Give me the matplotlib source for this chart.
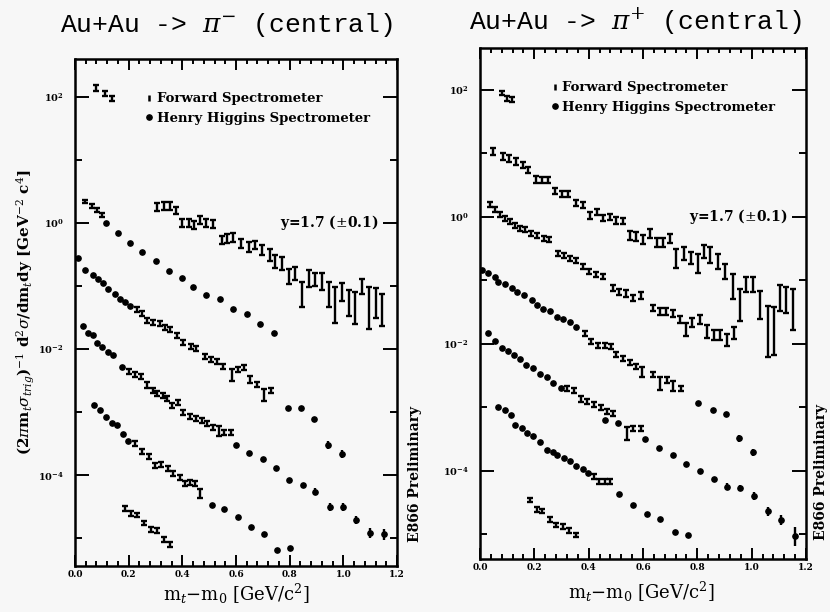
import numpy as np
import matplotlib
matplotlib.use('Agg')
import matplotlib.pyplot as plt
from matplotlib.ticker import FixedLocator, NullFormatter
from matplotlib.lines import Line2D

plt.rcParams['font.family'] = 'DejaVu Serif'
plt.rcParams['mathtext.fontset'] = 'dejavuserif'

# ---- data (x = mt-m0 in GeV/c^2, logy = log10 of yield, err in decades)
# kind: 'f' = Forward Spectrometer point, 'h' = Henry Higgins Spectrometer point

# pi- panel
L_A_x = [0.08, 0.112, 0.137]
L_A_logy = [2.14, 2.06, 1.98]
L_A_err = [0.04, 0.04, 0.04]
L_A_kind = 'fff'

L_B_x = [0.307, 0.333, 0.354, 0.377, 0.40, 0.423, 0.444, 0.466, 0.489, 0.514,
         0.547, 0.568, 0.59, 0.618, 0.647, 0.672, 0.697, 0.725, 0.746, 0.771,
         0.796, 0.821, 0.846, 0.871, 0.896, 0.92, 0.945, 0.97, 0.995, 1.02,
         1.045, 1.07, 1.094, 1.12, 1.144]
L_B_logy = [0.25, 0.27, 0.27, 0.20, 0.0, 0.0, -0.03, 0.05, 0.0, -0.02,
            -0.27, -0.24, -0.23, -0.32, -0.38, -0.35, -0.43, -0.51, -0.61, -0.64,
            -0.85, -0.80, -1.14, -0.88, -0.90, -0.93, -1.14, -1.30, -1.09, -1.27,
            -1.35, -1.01, -1.35, -1.27, -1.38]
L_B_err = [0.06, 0.06, 0.06, 0.06, 0.06, 0.06, 0.06, 0.06, 0.06, 0.06,
           0.07, 0.07, 0.07, 0.07, 0.08, 0.07, 0.08, 0.09, 0.1, 0.1,
           0.12, 0.1, 0.2, 0.14, 0.1, 0.13, 0.2, 0.29, 0.14, 0.2,
           0.25, 0.12, 0.33, 0.24, 0.25]
L_B_kind = 'fffffffffffffffffffffffffffffffffff'

L_C_x = [0.037, 0.062, 0.081, 0.10, 0.116, 0.159, 0.205, 0.25, 0.30, 0.35,
         0.40, 0.44, 0.49, 0.54, 0.59, 0.64, 0.69, 0.74]
L_C_logy = [0.34, 0.27, 0.20, 0.13, 0.0, -0.16, -0.31, -0.46, -0.61, -0.76,
            -0.88, -1.02, -1.14, -1.21, -1.37, -1.44, -1.60, -1.74]
L_C_err = [0.03, 0.03, 0.03, 0.03, 0, 0, 0, 0, 0, 0, 0, 0, 0, 0, 0, 0, 0, 0]
L_C_kind = 'ffffhhhhhhhhhhhhhh'

L_D_x = [0.012, 0.037, 0.068, 0.087, 0.106, 0.124, 0.149, 0.168, 0.187, 0.205,
         0.23, 0.249, 0.27, 0.292, 0.315, 0.336, 0.354, 0.379, 0.404, 0.432,
         0.451, 0.485, 0.506, 0.529, 0.553, 0.585, 0.606, 0.63, 0.653, 0.68,
         0.703, 0.73, 0.794, 0.842, 0.892, 0.941, 0.995]
L_D_logy = [-0.56, -0.74, -0.83, -0.89, -0.96, -1.04, -1.12, -1.2, -1.25, -1.32,
            -1.38, -1.43, -1.54, -1.58, -1.6, -1.66, -1.69, -1.78, -1.9, -1.96,
            -1.99, -2.12, -2.17, -2.2, -2.28, -2.41, -2.32, -2.29, -2.48, -2.56,
            -2.73, -2.65, -2.93, -2.93, -3.11, -3.52, -3.66]
L_D_err = [0, 0, 0, 0, 0, 0, 0, 0, 0, 0,
           0.04, 0.04, 0.04, 0.04, 0.04, 0.04, 0.04, 0.04, 0.04, 0.04,
           0.04, 0.04, 0.04, 0.04, 0.04, 0.1, 0.04, 0.04, 0.06, 0.04,
           0.1, 0.04, 0, 0, 0.04, 0.06, 0.06]
L_D_kind = 'hhhhhhhhhhffffffffffffffffffffffhhhhh'

L_E_x = [0.031, 0.05, 0.066, 0.081, 0.1, 0.124, 0.143, 0.174, 0.203, 0.224,
         0.245, 0.27, 0.29, 0.307, 0.327, 0.344, 0.361, 0.382, 0.404, 0.429,
         0.451, 0.473, 0.491, 0.514, 0.535, 0.556, 0.583, 0.6, 0.649, 0.699,
         0.75, 0.799, 0.848, 0.896, 0.949, 0.999, 1.049, 1.1, 1.15]
L_E_logy = [-1.63, -1.75, -1.78, -1.91, -1.96, -2.04, -2.1, -2.28, -2.36, -2.41,
            -2.44, -2.57, -2.65, -2.7, -2.73, -2.78, -2.89, -2.85, -3.0, -3.07,
            -3.1, -3.13, -3.18, -3.24, -3.3, -3.33, -3.33, -3.52, -3.65, -3.74,
            -3.89, -4.08, -4.15, -4.26, -4.5, -4.5, -4.71, -4.92, -4.94]
L_E_err = [0, 0, 0, 0, 0, 0, 0, 0, 0.04, 0.04,
           0.04, 0.04, 0.04, 0.04, 0.04, 0.04, 0.04, 0.04, 0.04, 0.04,
           0.04, 0.04, 0.04, 0.04, 0.08, 0.04, 0.04, 0, 0, 0,
           0, 0, 0, 0.05, 0.06, 0.06, 0.07, 0.08, 0.08]
L_E_kind = 'hhhhhhhhfffffffffffffffffffhhhhhhhhhhhh'

L_F_x = [0.071, 0.093, 0.116, 0.137, 0.158, 0.178, 0.199, 0.224, 0.249, 0.274,
         0.299, 0.32, 0.348, 0.367, 0.392, 0.41, 0.429, 0.448, 0.466, 0.51,
         0.556, 0.606, 0.656, 0.703, 0.753, 0.802]
L_F_logy = [-2.89, -2.97, -3.07, -3.18, -3.21, -3.34, -3.46, -3.5, -3.63, -3.71,
            -3.84, -3.83, -3.89, -3.97, -4.03, -4.13, -4.11, -4.13, -4.29, -4.48,
            -4.54, -4.66, -4.82, -4.94, -5.18, -5.16]
L_F_err = [0, 0, 0, 0, 0, 0, 0, 0.04, 0.04, 0.04,
           0.04, 0.04, 0.04, 0.04, 0.04, 0.04, 0.04, 0.04, 0.07, 0,
           0, 0, 0, 0, 0, 0.04]
L_F_kind = 'hhhhhhhffffffffffffhhhhhhh'

L_G_x = [0.187, 0.208, 0.232, 0.257, 0.282, 0.307, 0.332, 0.354]
L_G_logy = [-4.53, -4.61, -4.63, -4.76, -4.86, -4.88, -5.02, -5.1]
L_G_err = [0.035, 0.035, 0.035, 0.035, 0.035, 0.035, 0.035, 0.035]
L_G_kind = 'ffffffff'

# pi+ panel
R_A_x = [0.08, 0.098, 0.117]
R_A_logy = [1.95, 1.87, 1.85]
R_A_err = [0.035, 0.04, 0.04]
R_A_kind = 'fff'

R_B_x = [0.047, 0.086, 0.108, 0.132, 0.157, 0.178, 0.206, 0.227, 0.251, 0.276,
         0.3, 0.325, 0.353, 0.378, 0.404, 0.429, 0.453, 0.478, 0.502, 0.527,
         0.551, 0.574, 0.6, 0.625, 0.65, 0.674, 0.699, 0.723, 0.75, 0.775,
         0.803, 0.824, 0.846, 0.876, 0.901, 0.93, 0.958, 0.98, 1.005, 1.03,
         1.06, 1.081, 1.103, 1.128, 1.152]
R_B_logy = [1.03, 0.95, 0.92, 0.87, 0.82, 0.74, 0.59, 0.58, 0.58, 0.41,
            0.36, 0.36, 0.22, 0.19, 0.02, 0.08, -0.02, 0.0, -0.06, -0.07,
            -0.3, -0.31, -0.36, -0.26, -0.41, -0.4, -0.34, -0.65, -0.58, -0.65,
            -0.73, -0.55, -0.6, -0.7, -0.86, -1.1, -1.39, -1.07, -1.07, -1.39,
            -1.8, -1.8, -1.28, -1.31, -1.46]
R_B_err = [0.05, 0.05, 0.05, 0.05, 0.05, 0.05, 0.05, 0.05, 0.05, 0.05,
           0.05, 0.05, 0.05, 0.05, 0.05, 0.05, 0.05, 0.05, 0.05, 0.05,
           0.07, 0.07, 0.07, 0.07, 0.07, 0.07, 0.07, 0.15, 0.1, 0.1,
           0.15, 0.1, 0.12, 0.12, 0.12, 0.2, 0.25, 0.12, 0.12, 0.22,
           0.4, 0.38, 0.2, 0.2, 0.33]
R_B_kind = 'fffffffffffffffffffffffffffffffffffffffffffff'

R_C_x = [0.037, 0.055, 0.074, 0.092, 0.11, 0.129, 0.147, 0.165, 0.186, 0.208,
         0.235, 0.255, 0.288, 0.309, 0.331, 0.353, 0.38, 0.402, 0.426, 0.451,
         0.49, 0.512, 0.537, 0.564, 0.591, 0.637, 0.662, 0.686, 0.711, 0.735,
         0.76, 0.782, 0.809, 0.836, 0.86, 0.885, 0.909, 0.934]
R_C_logy = [0.19, 0.11, 0.03, -0.02, -0.07, -0.13, -0.18, -0.2, -0.26, -0.3,
            -0.34, -0.36, -0.58, -0.61, -0.65, -0.69, -0.78, -0.86, -0.91, -0.94,
            -1.12, -1.18, -1.21, -1.28, -1.24, -1.44, -1.49, -1.49, -1.52, -1.62,
            -1.78, -1.67, -1.62, -1.81, -1.86, -1.86, -1.94, -1.83]
R_C_err = [0.04, 0.04, 0.04, 0.04, 0.04, 0.04, 0.04, 0.04, 0.04, 0.04,
           0.04, 0.04, 0.04, 0.04, 0.04, 0.04, 0.04, 0.04, 0.04, 0.04,
           0.05, 0.05, 0.05, 0.05, 0.05, 0.05, 0.05, 0.05, 0.06, 0.06,
           0.1, 0.07, 0.07, 0.1, 0.08, 0.08, 0.1, 0.1]
R_C_kind = 'ffffffffffffffffffffffffffffffffffffff'

R_D_x = [0.006, 0.031, 0.055, 0.067, 0.092, 0.116, 0.137, 0.162, 0.19, 0.211,
         0.233, 0.257, 0.282, 0.306, 0.331, 0.355, 0.386, 0.41, 0.435, 0.46,
         0.484, 0.502, 0.527, 0.551, 0.576, 0.598, 0.637, 0.662, 0.689, 0.711,
         0.741, 0.803, 0.858, 0.904, 0.953, 1.005]
R_D_logy = [-0.83, -0.89, -0.94, -1.02, -1.06, -1.12, -1.18, -1.23, -1.31, -1.39,
            -1.45, -1.49, -1.57, -1.61, -1.66, -1.74, -1.84, -1.96, -2.03, -2.02,
            -2.04, -2.17, -2.23, -2.3, -2.36, -2.44, -2.49, -2.62, -2.57, -2.67,
            -2.7, -2.93, -3.04, -3.1, -3.49, -3.71]
R_D_err = [0, 0, 0, 0, 0, 0, 0, 0, 0, 0,
           0, 0, 0, 0, 0, 0, 0.04, 0.04, 0.04, 0.04,
           0.04, 0.04, 0.04, 0.04, 0.04, 0.08, 0.04, 0.1, 0.04, 0.08,
           0.04, 0, 0, 0, 0.06, 0.06]
R_D_kind = 'hhhhhhhhhhhhhhhhfffffffffffffffhhhhh'

R_E_x = [0.031, 0.055, 0.08, 0.104, 0.125, 0.147, 0.169, 0.194, 0.221, 0.245,
         0.27, 0.297, 0.321, 0.346, 0.37, 0.394, 0.419, 0.444, 0.466, 0.49,
         0.46, 0.509, 0.542, 0.564, 0.591, 0.609, 0.659, 0.711, 0.76, 0.811,
         0.86, 0.909, 0.958, 1.007, 1.06, 1.109, 1.158]
R_E_logy = [-1.83, -1.95, -2.07, -2.12, -2.17, -2.24, -2.33, -2.38, -2.47, -2.52,
            -2.62, -2.7, -2.71, -2.74, -2.87, -2.91, -2.96, -3.01, -3.07, -3.1,
            -3.2, -3.25, -3.41, -3.34, -3.33, -3.5, -3.64, -3.75, -3.89, -4.0,
            -4.13, -4.25, -4.27, -4.4, -4.64, -4.77, -5.03]
R_E_err = [0, 0, 0, 0, 0, 0, 0, 0, 0, 0,
           0, 0, 0.04, 0.04, 0.04, 0.04, 0.04, 0.04, 0.04, 0.04,
           0, 0, 0.1, 0.04, 0.04, 0, 0, 0, 0, 0,
           0, 0.05, 0.05, 0.06, 0.07, 0.08, 0.15]
R_E_kind = 'hhhhhhhhhhhhffffffffhhfffhhhhhhhhhhhh'

R_F_x = [0.067, 0.092, 0.113, 0.129, 0.153, 0.172, 0.196, 0.221, 0.245, 0.267,
         0.284, 0.309, 0.331, 0.355, 0.378, 0.398, 0.419, 0.439, 0.46, 0.48,
         0.512, 0.564, 0.613, 0.664, 0.717, 0.766]
R_F_logy = [-2.99, -3.04, -3.12, -3.28, -3.33, -3.4, -3.45, -3.54, -3.67, -3.7,
            -3.75, -3.8, -3.85, -3.93, -3.98, -4.04, -4.09, -4.17, -4.17, -4.17,
            -4.36, -4.54, -4.68, -4.76, -4.97, -5.01]
R_F_err = [0, 0, 0, 0, 0, 0, 0, 0, 0, 0,
           0, 0, 0, 0, 0, 0, 0.04, 0.04, 0.04, 0.04,
           0, 0, 0, 0, 0, 0]
R_F_kind = 'hhhhhhhhhhhhhhhhffffhhhhhh'

R_G_x = [0.184, 0.208, 0.227, 0.257, 0.279, 0.304, 0.328, 0.353]
R_G_logy = [-4.46, -4.61, -4.63, -4.77, -4.85, -4.88, -4.94, -5.01]
R_G_err = [0.035, 0.035, 0.035, 0.035, 0.035, 0.035, 0.035, 0.035]
R_G_kind = 'ffffffff'

left_series = [(L_A_x, L_A_logy, L_A_err, L_A_kind), (L_B_x, L_B_logy, L_B_err, L_B_kind),
               (L_C_x, L_C_logy, L_C_err, L_C_kind), (L_D_x, L_D_logy, L_D_err, L_D_kind),
               (L_E_x, L_E_logy, L_E_err, L_E_kind), (L_F_x, L_F_logy, L_F_err, L_F_kind),
               (L_G_x, L_G_logy, L_G_err, L_G_kind)]
right_series = [(R_A_x, R_A_logy, R_A_err, R_A_kind), (R_B_x, R_B_logy, R_B_err, R_B_kind),
                (R_C_x, R_C_logy, R_C_err, R_C_kind), (R_D_x, R_D_logy, R_D_err, R_D_kind),
                (R_E_x, R_E_logy, R_E_err, R_E_kind), (R_F_x, R_F_logy, R_F_err, R_F_kind),
                (R_G_x, R_G_logy, R_G_err, R_G_kind)]

x_ticks = [0.0, 0.2, 0.4, 0.6, 0.8, 1.0, 1.2]
x_ticklabels = ['0.0', '0.2', '0.4', '0.6', '0.8', '1.0', '1.2']
y_ticks = [1e2, 1e0, 1e-2, 1e-4]
y_ticklabels = [r'$\mathbf{10^{2}}$', r'$\mathbf{10^{0}}$', r'$\mathbf{10^{-2}}$', r'$\mathbf{10^{-4}}$']
y_minor = [1e1, 1e-1, 1e-3, 1e-5]

BG = '#f7f7f7'
W, H = 830, 612


def draw_series(ax, x, logy, err, kind):
    x = np.array(x)
    logy = np.array(logy)
    err = np.array(err)
    y = 10 ** logy
    lo = y - 10 ** (logy - err)
    hi = 10 ** (logy + err) - y
    fs = np.array([k == 'f' for k in kind])
    hh = ~fs
    if fs.any():
        ax.errorbar(x[fs], y[fs], yerr=[lo[fs], hi[fs]], fmt='none', ecolor='k',
                    elinewidth=1.7, capsize=1.9, capthick=1.7)
    if hh.any():
        ax.errorbar(x[hh], y[hh], yerr=[lo[hh], hi[hh]], fmt='o', color='k', ms=3.8,
                    elinewidth=1.7, capsize=0)


def setup(ax, ylo, yhi):
    ax.set_facecolor(BG)
    ax.set_yscale('log')
    ax.set_xlim(0, 1.2)
    ax.set_ylim(10 ** ylo, 10 ** yhi)
    ax.set_xticks(x_ticks)
    ax.set_xticklabels(x_ticklabels, fontsize=6.5, fontweight='bold')
    ax.xaxis.set_minor_locator(FixedLocator(np.arange(0, 1.201, 0.04)))
    ax.set_yticks(y_ticks)
    ax.set_yticklabels(y_ticklabels, fontsize=7)
    ax.yaxis.set_minor_locator(FixedLocator(y_minor))
    ax.yaxis.set_minor_formatter(NullFormatter())
    ax.tick_params(axis='both', which='both', direction='in', top=True, right=True, width=1.4)
    ax.tick_params(axis='y', which='major', length=10, pad=8)
    ax.tick_params(axis='y', which='minor', length=5)
    ax.tick_params(axis='x', which='major', length=8, pad=3)
    ax.tick_params(axis='x', which='minor', length=3.5)
    for s in ax.spines.values():
        s.set_linewidth(1.8)


fig = plt.figure(figsize=(W / 100, H / 100), dpi=100, facecolor=BG)

# pixel boxes of the two frames: left, top, right, bottom
axL = fig.add_axes([75 / W, (H - 566) / H, 322 / W, 507 / H])
axR = fig.add_axes([480 / W, (H - 559) / H, 326 / W, 511 / H])
setup(axL, -5.44, 2.60)
setup(axR, -5.39, 2.66)

for s in left_series:
    draw_series(axL, *s)
for s in right_series:
    draw_series(axR, *s)

fs_handle = Line2D([], [], color='k', marker='|', ms=5, mew=1.8, ls='none')
hh_handle = Line2D([], [], color='k', marker='o', ms=3.8, ls='none')
for ax in (axL, axR):
    ax.legend([fs_handle, hh_handle], ['Forward Spectrometer', 'Henry Higgins Spectrometer'],
              loc='upper left', bbox_to_anchor=(0.18, 0.958), frameon=False,
              handlelength=0.6, handletextpad=0.3, labelspacing=0.5,
              prop={'weight': 'bold', 'size': 9.5})
    ax.text(1.13, 1.0, r'y=1.7 ($\pm$0.1)', ha='right', va='center',
            fontsize=10, fontweight='bold')

axL.set_ylabel(r'(2$\pi$m$_t\sigma_{trig}$)$^{-1}$ d$^2\sigma$/dm$_t$dy [GeV$^{-2}$ c$^4$]',
               fontsize=11, fontweight='bold', labelpad=1)

fig.text(226 / W, 1 - 25 / H, r'Au+Au -> $\pi^{-}$ (central)', ha='center', va='center',
         fontsize=19, family='Liberation Mono')
fig.text(635 / W, 1 - 22 / H, r'Au+Au -> $\pi^{+}$ (central)', ha='center', va='center',
         fontsize=19, family='Liberation Mono')
fig.text(236 / W, 1 - 594 / H, r'm$_t$$-$m$_0$ [GeV/c$^2$]', ha='center', va='center', fontsize=13)
fig.text(641 / W, 1 - 592 / H, r'm$_t$$-$m$_0$ [GeV/c$^2$]', ha='center', va='center', fontsize=13)
fig.text(415 / W, 1 - 474 / H, 'E866 Preliminary', rotation=90, ha='center', va='center',
         fontsize=10, fontweight='bold')
fig.text(821 / W, 1 - 472 / H, 'E866 Preliminary', rotation=90, ha='center', va='center',
         fontsize=10, fontweight='bold')

fig.savefig('out.png', dpi=100, facecolor=BG)
